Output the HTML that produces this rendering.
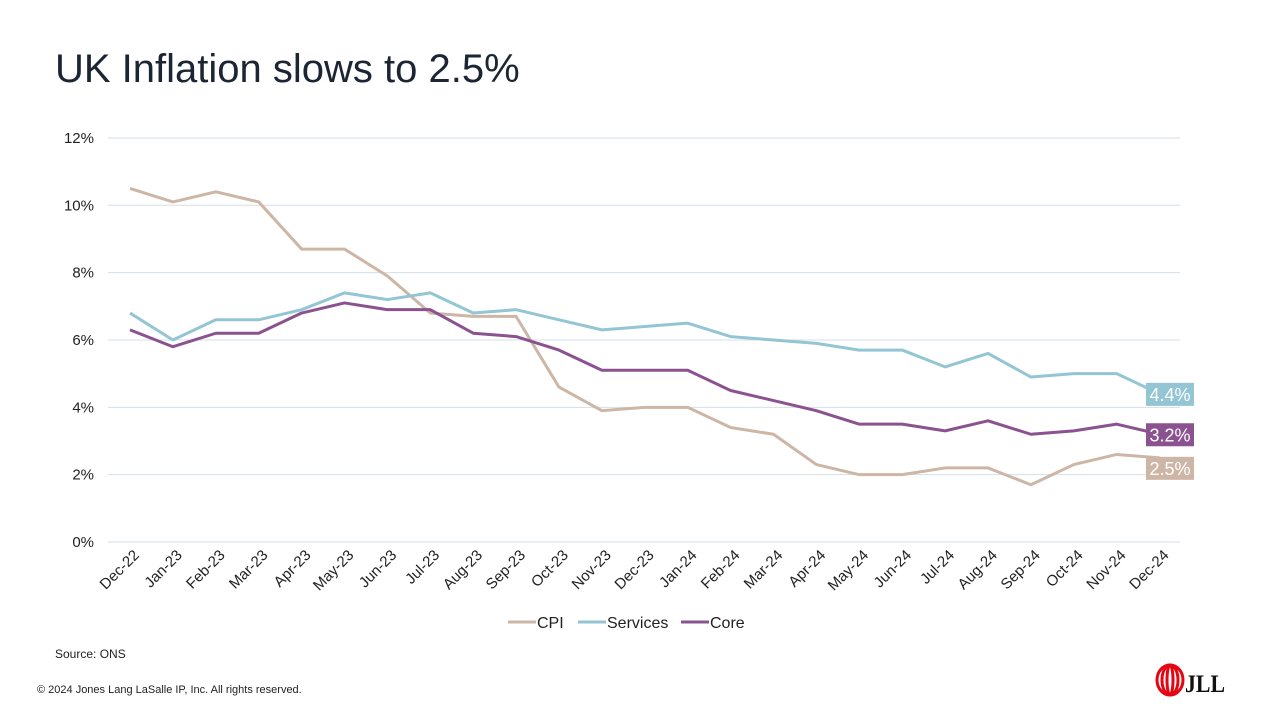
<!DOCTYPE html>
<html><head><meta charset="utf-8"><style>
body{margin:0;width:1280px;height:720px;background:#fff;font-family:"Liberation Sans",sans-serif;overflow:hidden;position:relative}
.t{position:absolute;left:55px;top:47px;font-size:40px;color:#1b2533}
.s{position:absolute;left:55px;top:647px;font-size:12px;color:#222}
.c{position:absolute;left:37px;top:684px;font-size:11px;color:#222}
</style></head><body>
<div class="t">UK Inflation slows to 2.5%</div>
<svg id="ch" width="1280" height="720" style="position:absolute;left:0;top:0"></svg>
<div class="s">Source: ONS</div>
<div class="c">© 2024 Jones Lang LaSalle IP, Inc. All rights reserved.</div>
<svg width="72" height="36" style="position:absolute;left:1155px;top:662px">
<ellipse cx="15" cy="18" rx="13" ry="15" fill="none" stroke="#e30613" stroke-width="3"/>
<ellipse cx="15" cy="18" rx="8" ry="15" fill="none" stroke="#e30613" stroke-width="3"/>
<ellipse cx="15" cy="18" rx="3" ry="15" fill="none" stroke="#e30613" stroke-width="3"/>
<text x="30" y="30" font-family="Liberation Serif" font-weight="bold" font-size="25" fill="#111" textLength="40" lengthAdjust="spacingAndGlyphs">JLL</text>
</svg>
<script>
const categories=["Dec-22","Jan-23","Feb-23","Mar-23","Apr-23","May-23","Jun-23","Jul-23","Aug-23","Sep-23","Oct-23","Nov-23","Dec-23","Jan-24","Feb-24","Mar-24","Apr-24","May-24","Jun-24","Jul-24","Aug-24","Sep-24","Oct-24","Nov-24","Dec-24"];
const cpi=[10.5,10.1,10.4,10.1,8.7,8.7,7.9,6.8,6.7,6.7,4.6,3.9,4.0,4.0,3.4,3.2,2.3,2.0,2.0,2.2,2.2,1.7,2.3,2.6,2.5];
const services=[6.8,6.0,6.6,6.6,6.9,7.4,7.2,7.4,6.8,6.9,6.6,6.3,6.4,6.5,6.1,6.0,5.9,5.7,5.7,5.2,5.6,4.9,5.0,5.0,4.4];
const core=[6.3,5.8,6.2,6.2,6.8,7.1,6.9,6.9,6.2,6.1,5.7,5.1,5.1,5.1,4.5,4.2,3.9,3.5,3.5,3.3,3.6,3.2,3.3,3.5,3.2];
const yTicks=[0,2,4,6,8,10,12];
const seriesNames=["CPI","Services","Core"];
const colors=["#cdb6a5","#93c5d4","#8b5290"];
const svg=document.getElementById('ch');const NS="http://www.w3.org/2000/svg";
const X=i=>130+i*42.9, Y=v=>542-v*33.67;
function mk(t,a,p){const e=document.createElementNS(NS,t);for(const k in a)e.setAttribute(k,a[k]);(p||svg).appendChild(e);return e;}
yTicks.forEach(v=>{
 const g=mk('line',{x1:108,x2:1180,y1:Y(v),y2:Y(v),stroke:'#d3dfe8','stroke-width':1});
 
 
 const t=mk('text',{x:94,y:Y(v)+5,'text-anchor':'end','font-size':15,fill:'#222'});t.textContent=v+'%';
 
 
});
categories.forEach((c,i)=>{
 const t=mk('text',{transform:`translate(${X(i)+10},${556}) rotate(-45)`,'text-anchor':'end','font-size':15,fill:'#222'});t.textContent=c;
 
 
});
[cpi,services,core].forEach((d,s)=>{
 const p=mk('polyline',{points:d.map((v,i)=>X(i)+','+Y(v)).join(' '),fill:'none',stroke:colors[s],'stroke-width':3,'stroke-linejoin':'round'});
 
 
});
[[services,1,0],[core,2,0],[cpi,0,10]].forEach(([d,s,o])=>{
 const v=d[d.length-1],y=Y(v)+o;
 const r=mk('rect',{x:1146,y:y-11,width:48,height:23,fill:colors[s]});
 
 
 const t=mk('text',{x:1170,y:y+7,'text-anchor':'middle','font-size':18,fill:'#fff'});t.textContent=v.toFixed(1)+'%';
 
 
});
const lx=[508,578,681];
seriesNames.forEach((n,s)=>{
 const l=mk('line',{x1:lx[s],x2:lx[s]+28,y1:622,y2:622,stroke:colors[s],'stroke-width':3});
 
 
 const t=mk('text',{x:lx[s]+29,y:628,'font-size':16,fill:'#222'});t.textContent=n;
 
 
});
</script>
</body></html>
